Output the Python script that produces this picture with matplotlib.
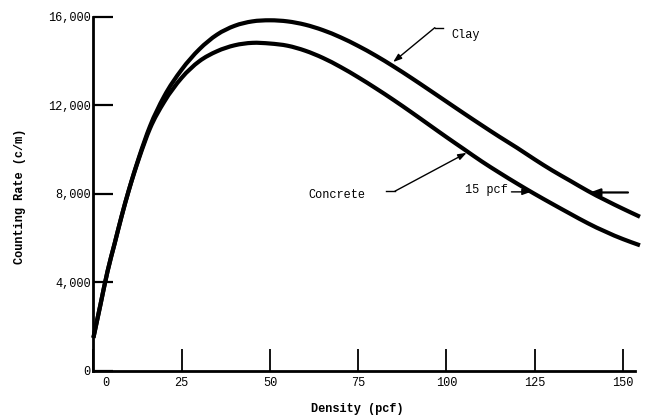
import matplotlib
matplotlib.use("Agg")
import matplotlib.pyplot as plt
import numpy as np
from matplotlib.path import Path
from matplotlib.patches import PathPatch
from matplotlib.transforms import ScaledTranslation

# ---- data ----
density = [0, 2, 4, 6, 8, 10, 13, 16, 20, 25, 30, 35, 40, 45, 50, 55, 60,
           65, 70, 75, 80, 85, 90, 95, 100, 105, 110, 115, 120, 125, 130,
           135, 140, 150, 154.8]
clay = [1500, 3000, 4500, 5750, 7000, 8150, 9700, 11050, 12400, 13620, 14540,
        15200, 15600, 15800, 15850, 15800, 15650, 15405, 15080, 14690, 14250,
        13765, 13250, 12715, 12175, 11635, 11105, 10585, 10085, 9560, 9060,
        8600, 8140, 7330, 6970]
concrete = [1500, 3000, 4500, 5750, 7000, 8150, 9650, 10950, 12150, 13250,
            14000, 14450, 14720, 14830, 14800, 14700, 14475, 14150, 13740,
            13275, 12775, 12250, 11700, 11135, 10570, 10020, 9470, 8960,
            8470, 8000, 7550, 7110, 6680, 5960, 5680]

x_ticks = [0, 25, 50, 75, 100, 125, 150]
y_ticks = [0, 4000, 8000, 12000, 16000]
y_tick_labels = ["0", "4,000", "8,000", "12,000", "16,000"]
x_label = "Density (pcf)"
y_label = "Counting Rate (c/m)"

FONT = "Liberation Mono"
FS = 8.6


def smooth_path(xs, ys):
    """Cubic Bezier path through the given points (Hermite tangents)."""
    x = np.asarray(xs, float)
    y = np.asarray(ys, float)
    n = len(x)
    d = np.diff(y) / np.diff(x)
    m = np.empty(n)
    m[0], m[-1] = d[0], d[-1]
    for i in range(1, n - 1):
        h0, h1 = x[i] - x[i - 1], x[i + 1] - x[i]
        m[i] = (d[i - 1] * h1 + d[i] * h0) / (h0 + h1)
    verts = [(x[0], y[0])]
    codes = [Path.MOVETO]
    for i in range(n - 1):
        h = x[i + 1] - x[i]
        verts += [(x[i] + h / 3, y[i] + m[i] * h / 3),
                  (x[i + 1] - h / 3, y[i + 1] - m[i + 1] * h / 3),
                  (x[i + 1], y[i + 1])]
        codes += [Path.CURVE4] * 3
    return Path(verts, codes)


fig = plt.figure(figsize=(6.49, 4.16), dpi=100)
ax = fig.add_axes([0.1439, 0.1082, 0.8422, 0.851])

for series in (clay, concrete):
    ax.add_patch(PathPatch(smooth_path(density, series), fill=False,
                           edgecolor="black", lw=3.0, capstyle="butt",
                           clip_on=False))

ax.set_xlim(0, 154.8)
ax.set_ylim(0, 16000)

for s in ["top", "right"]:
    ax.spines[s].set_visible(False)
ax.spines["left"].set_linewidth(2.0)
ax.spines["bottom"].set_linewidth(2.0)
ax.spines["bottom"].set_bounds(0, 153.3)

ax.set_xticks(x_ticks)
ax.set_xticklabels([str(t) for t in x_ticks], fontfamily=FONT, fontsize=FS)
ax.set_yticks(y_ticks)
ax.set_yticklabels(y_tick_labels, fontfamily=FONT, fontsize=FS)
ax.tick_params(axis="x", direction="in", length=15.8, width=1.3, pad=4)
ax.tick_params(axis="y", direction="in", length=14.4, width=1.6, pad=2)

# shift the "0" x label right, away from the spine
lbl0 = ax.get_xticklabels()[0]
lbl0.set_transform(lbl0.get_transform() +
                   ScaledTranslation(12 / 100, 0, fig.dpi_scale_trans))

fig.text(357 / 649, 1 - 409 / 416, x_label, ha="center", va="center",
         fontfamily=FONT, fontsize=FS, fontweight="bold")
fig.text(20 / 649, 1 - 196 / 416, y_label, ha="center", va="center",
         rotation=90, fontfamily=FONT, fontsize=FS, fontweight="bold")

arrow = dict(arrowstyle="-|>,head_length=0.5,head_width=0.18",
             color="black", lw=1.0, shrinkA=0, shrinkB=0)

# Clay label
ax.plot([99.1, 96.7], [15517, 15517], color="black", lw=1.0)
ax.annotate("", xy=(84.9, 13964), xytext=(96.7, 15517), arrowprops=arrow)
ax.text(101.4, 15200, "Clay", ha="left", va="center",
        fontfamily=FONT, fontsize=FS)

# Concrete label
ax.plot([83.0, 85.4], [8126, 8126], color="black", lw=1.0)
ax.annotate("", xy=(105.7, 9860), xytext=(85.4, 8126), arrowprops=arrow)
ax.text(60.8, 7946, "Concrete", ha="left", va="center",
        fontfamily=FONT, fontsize=FS)

# 15 pcf marker
ax.text(105.2, 8190, "15 pcf", ha="left", va="center",
        fontfamily=FONT, fontsize=FS)
ax.annotate("", xy=(123.9, 8095), xytext=(118.4, 8095), arrowprops=arrow)
ax.annotate("", xy=(140.6, 8068), xytext=(151.4, 8068),
            arrowprops=dict(arrowstyle="-|>,head_length=0.6,head_width=0.22",
                            color="black", lw=1.6, shrinkA=0, shrinkB=0))

fig.savefig("out.png", dpi=100)
